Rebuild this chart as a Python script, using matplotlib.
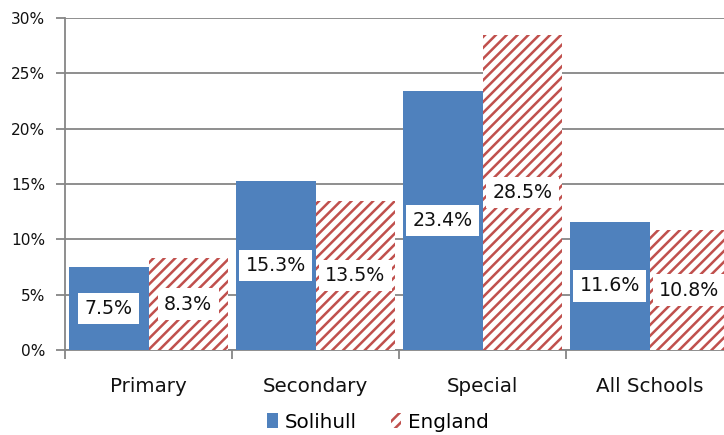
import matplotlib
matplotlib.use("Agg")
import matplotlib.pyplot as plt
import matplotlib.patches as mpatches
import numpy as np

categories = ["Primary", "Secondary", "Special", "All Schools"]
solihull = [7.5, 15.3, 23.4, 11.6]
england = [8.3, 13.5, 28.5, 10.8]
yticks = [0, 5, 10, 15, 20, 25, 30]
series_names = ["Solihull", "England"]

DPI = 130
W, H = 724, 435
plt.rcParams['font.family'] = ['DejaVu Sans']
plt.rcParams['hatch.linewidth'] = 1.4

fig = plt.figure(figsize=(W / DPI, H / DPI), dpi=DPI)
ax = fig.add_axes([65 / W, 1 - 350 / H, 668 / W, 332 / H])

blue = "#4F81BD"
red = "#C0504D"
grid = "#868686"

x = np.arange(len(categories))
bw = 0.476
b1 = ax.bar(x - bw / 2, solihull, bw, color=blue, edgecolor=blue, linewidth=0, zorder=3)
b2 = ax.bar(x + bw / 2, england, bw, color="white", edgecolor=red, hatch="////", linewidth=0, zorder=3)

for bars, vals in ((b1, solihull), (b2, england)):
    for rect, v in zip(bars, vals):
        ax.text(rect.get_x() + rect.get_width() / 2, v / 2, f"{v:.1f}%",
                ha="center", va="center", fontsize=10.5, color="#111111", zorder=5,
                bbox=dict(boxstyle="square,pad=0.33", fc="white", ec="none"))

ax.set_xlim(-0.5, len(categories) - 0.5)
ax.set_ylim(0, 30)
ax.set_yticks(yticks)
ax.set_yticklabels([f"{t}%" for t in yticks])
ax.yaxis.grid(True, color=grid, linewidth=1.0, zorder=0)
ax.set_axisbelow(True)

ax.set_xticks(np.arange(len(categories) + 1) - 0.5)
ax.set_xticklabels([])
ax.set_xticks(x, minor=True)
ax.set_xticklabels(categories, minor=True, fontsize=11)
ax.tick_params(axis="x", which="minor", length=0, pad=15, colors="#111111")
ax.tick_params(axis="x", which="major", length=5, color=grid, width=1)
ax.tick_params(axis="y", length=5, color=grid, width=1, labelsize=8.5, colors="#111111", pad=6)
ax.tick_params(axis="y", colors=grid, labelcolor="#111111")

for s in ("top", "right"):
    ax.spines[s].set_visible(False)
for s in ("left", "bottom"):
    ax.spines[s].set_color(grid)
    ax.spines[s].set_linewidth(1)

handles = [mpatches.Patch(facecolor=blue, edgecolor=blue, linewidth=0, label=series_names[0]),
           mpatches.Patch(facecolor="white", edgecolor=red, hatch="////", linewidth=0, label=series_names[1])]
fig.legend(handles=handles, loc="center", bbox_to_anchor=(378 / W, 1 - 422 / H), ncol=2,
           frameon=False, fontsize=11, handlelength=0.55, handleheight=0.8,
           handletextpad=0.35, columnspacing=1.7)

fig.savefig("out.png", dpi=DPI)
